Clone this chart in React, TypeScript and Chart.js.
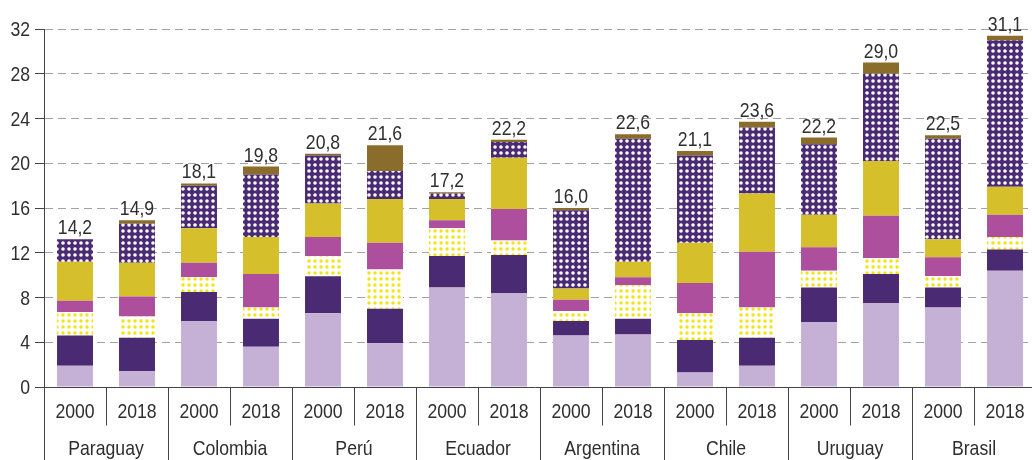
import React, { useEffect, useRef } from 'react';
import { Chart, registerables } from 'chart.js';
Chart.register(...registerables);

const countries = ['Paraguay', 'Colombia', 'Perú', 'Ecuador', 'Argentina', 'Chile', 'Uruguay', 'Brasil'];
const years = ['2000', '2018'];
const categories = countries.flatMap((c) => years.map((y) => `${c} ${y}`));
const yTicks = [0, 4, 8, 12, 16, 20, 24, 28, 32];

// bottom to top
const seriesLavender = [1.9, 1.4, 5.9, 3.6, 6.6, 3.9, 8.9, 8.4, 4.6, 4.7, 1.3, 1.9, 5.8, 7.5, 7.1, 10.4];
const seriesPurple = [2.7, 3.0, 2.6, 2.5, 3.3, 3.1, 2.8, 3.4, 1.3, 1.4, 2.9, 2.5, 3.1, 2.6, 1.8, 1.9];
const seriesYellowDots = [2.1, 1.9, 1.3, 1.0, 1.8, 3.5, 2.5, 1.3, 0.9, 3.0, 2.4, 2.7, 1.5, 1.4, 1.0, 1.1];
const seriesPink = [1.0, 1.8, 1.3, 3.0, 1.7, 2.4, 0.7, 2.8, 1.0, 0.7, 2.7, 5.0, 2.1, 3.8, 1.7, 2.0];
const seriesMustard = [3.5, 3.0, 3.1, 3.3, 3.0, 3.9, 1.9, 4.6, 1.0, 1.4, 3.6, 5.2, 2.9, 4.9, 1.6, 2.5];
const seriesPurpleDots = [2.0, 3.5, 3.8, 5.6, 4.3, 2.5, 0.5, 1.4, 7.0, 11.0, 7.8, 5.9, 6.3, 7.8, 9.0, 13.1];
const seriesBrown = [0, 0.3, 0.2, 0.7, 0.15, 2.3, 0.1, 0.2, 0.2, 0.4, 0.4, 0.5, 0.6, 1.0, 0.3, 0.4];
const totals = [14.2, 14.9, 18.1, 19.8, 20.8, 21.6, 17.2, 22.2, 16.0, 22.6, 21.1, 23.6, 22.2, 29.0, 22.5, 31.1];

const allSeries = [seriesLavender, seriesPurple, seriesYellowDots, seriesPink, seriesMustard, seriesPurpleDots, seriesBrown];

const FONT = '21px "Liberation Sans", Arial, sans-serif';
const SX = 0.84;
const TEXT = '#2e2e2e';
const AXIS = '#444444';
const GRID = '#a3a3a3';

function dotPattern(bg: string, dot: string, size: number, r: number) {
  const c = document.createElement('canvas');
  c.width = size;
  c.height = size;
  const g = c.getContext('2d')!;
  g.fillStyle = bg;
  g.fillRect(0, 0, size, size);
  g.fillStyle = dot;
  g.beginPath();
  g.arc(size / 2, size / 2, r, 0, Math.PI * 2);
  g.fill();
  return g.createPattern(c, 'repeat')!;
}

function drawText(ctx: CanvasRenderingContext2D, text: string, x: number, y: number, align: CanvasTextAlign) {
  ctx.save();
  ctx.translate(x, y);
  ctx.scale(SX, 1);
  ctx.textAlign = align;
  ctx.fillText(text, 0, 0);
  ctx.restore();
}

const overlay = {
  id: 'overlay',
  afterDatasetsDraw(chart: any) {
    const { ctx, chartArea, scales } = chart;
    const x = scales.x;
    const y = scales.y;
    ctx.save();
    ctx.font = FONT;
    ctx.fillStyle = TEXT;
    ctx.textBaseline = 'alphabetic';
    // totals
    categories.forEach((_, i) => {
      const top = allSeries.reduce((s, arr) => s + arr[i], 0);
      drawText(ctx, totals[i].toFixed(1).replace('.', ','), x.getPixelForValue(i), y.getPixelForValue(top) - 5, 'center');
    });
    // y tick labels
    yTicks.forEach((v) => {
      drawText(ctx, String(v), chartArea.left - 14, y.getPixelForValue(v) + 7, 'right');
    });
    ctx.strokeStyle = AXIS;
    ctx.lineWidth = 1;
    const y0 = Math.round(y.getPixelForValue(0)) + 0.5;
    ctx.beginPath();
    ctx.moveTo(chartArea.left - 9, y0);
    ctx.lineTo(chart.width, y0);
    ctx.stroke();
    const xl = Math.round(chartArea.left) + 0.5;
    ctx.beginPath();
    ctx.moveTo(xl, y0);
    ctx.lineTo(xl, chart.height);
    ctx.stroke();
    const half = (x.getPixelForValue(1) - x.getPixelForValue(0)) / 2;
    categories.forEach((_, i) => {
      const cx = x.getPixelForValue(i);
      const right = Math.round(cx + half) + 0.5;
      const countryEnd = i % 2 === 1;
      ctx.beginPath();
      ctx.moveTo(right, y0);
      ctx.lineTo(right, countryEnd ? chart.height : y0 + 38);
      ctx.stroke();
      drawText(ctx, years[i % 2], cx, y0 + 30, 'center');
    });
    countries.forEach((c, k) => {
      const cx = (x.getPixelForValue(2 * k) + x.getPixelForValue(2 * k + 1)) / 2;
      drawText(ctx, c, cx, y0 + 67, 'center');
    });
    ctx.restore();
  },
};

export default function App() {
  const ref = useRef<HTMLCanvasElement>(null);
  useEffect(() => {
    if (!ref.current) return;
    const yellowDots = dotPattern('#ffffff', '#f3e30f', 6, 1.7);
    const purpleDots = dotPattern('#4a2a73', '#ffffff', 6, 1.8);
    const colors: any[] = ['#c5b1d6', '#4a2a73', yellowDots, '#ad4f9d', '#d5bf2b', purpleDots, '#8a6c2b'];
    const chart = new Chart(ref.current, {
      type: 'bar',
      data: {
        labels: categories,
        datasets: allSeries.map((data, k) => ({
          data,
          backgroundColor: colors[k],
          borderWidth: 0,
          barPercentage: 0.58,
          categoryPercentage: 1,
        })),
      },
      options: {
        animation: false,
        responsive: true,
        maintainAspectRatio: false,
        devicePixelRatio: 1,
        layout: { padding: { top: 29, bottom: 73, left: 0, right: 0 } },
        plugins: { legend: { display: false }, tooltip: { enabled: false } },
        scales: {
          x: { stacked: true, display: false },
          y: {
            stacked: true,
            min: 0,
            max: 32,
            ticks: { stepSize: 4, display: false },
            grid: {
              color: (c: any) => (c.tick && c.tick.value === 0 ? 'rgba(0,0,0,0)' : GRID),
              tickColor: AXIS,
              tickLength: 9,
              drawTicks: true,
              tickBorderDash: [],
            },
            border: { display: true, color: AXIS, dash: [8, 5] },
            afterFit: (s: any) => {
              s.width = 44;
            },
          },
        },
      },
      plugins: [overlay],
    } as any);
    return () => chart.destroy();
  }, []);
  return (
    <div style={{ position: 'fixed', left: 0, top: 0, width: 1032, height: 460, overflow: 'hidden', background: '#fff' }}>
      <div style={{ position: 'relative', width: 1036, height: 460 }}>
        <canvas ref={ref} />
      </div>
    </div>
  );
}
